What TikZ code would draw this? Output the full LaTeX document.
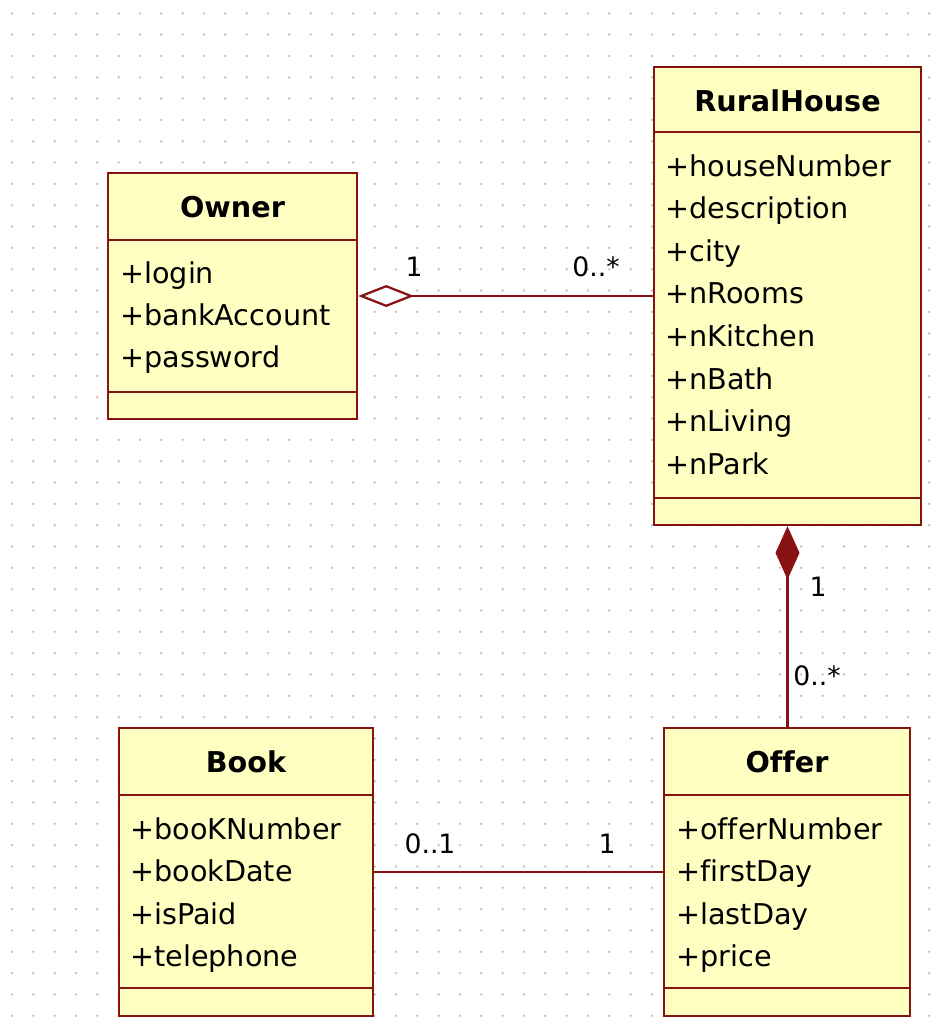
\documentclass[tikz,border=0pt]{standalone}
\usepackage{fontspec}
\setmainfont[Ligatures=NoCommon]{DejaVu Sans}
\usepackage{tikz}
\usetikzlibrary{arrows.meta,fit}

\definecolor{umlred}{RGB}{135,18,18}
\definecolor{umlfill}{RGB}{255,255,194}

\tikzset{
    classbox/.style={draw=umlred, fill=umlfill, line width=1.8pt, inner sep=0pt},
    compline/.style={draw=umlred, line width=1.8pt},
    assoc/.style={draw=umlred, line width=1.7pt},
    cname/.style={inner sep=0pt, anchor=base, font=\bfseries\fontsize{21.5}{26}\selectfont},
    attr/.style={inner sep=0pt, anchor=base west, font=\fontsize{21.5}{26}\selectfont},
    mult/.style={inner sep=0pt, anchor=base, font=\fontsize{20}{24}\selectfont}
}

\begin{document}
\begin{tikzpicture}[x=0.75pt, y=-0.75pt]
        \fill[white] (0,0) rectangle (944,1035);
        \useasboundingbox (0,0) rectangle (944,1035);
        \foreach \i in {0,...,43} \foreach \j in {0,...,47}
            \fill[gray!55] ({12+21.33*\i},{13.3+21.33*\j}) circle (0.9pt);

        \coordinate (A) at (108,173); \coordinate (B) at (357,419);
        \coordinate (C) at (654,67);  \coordinate (D) at (921,525);
        \coordinate (E) at (119,728); \coordinate (F) at (373,1016);
        \coordinate (G) at (664,728); \coordinate (H) at (910,1016);
        \node[classbox, fit=(A) (B)] (owner) {};
        \node[classbox, fit=(C) (D)] (rural) {};
        \node[classbox, fit=(E) (F)] (book) {};
        \node[classbox, fit=(G) (H)] (offer) {};

        \draw[compline] (108,240) -- (357,240); \draw[compline] (108,392) -- (357,392);
        \draw[compline] (654,132) -- (921,132); \draw[compline] (654,498) -- (921,498);
        \draw[compline] (119,795) -- (373,795); \draw[compline] (119,988) -- (373,988);
        \draw[compline] (664,795) -- (910,795); \draw[compline] (664,988) -- (910,988);

        \node[cname] (ownerT) at (232.5,217) {Owner};
        \node[cname] (ruralT) at (787.5,111) {RuralHouse};
        \node[cname] (bookT) at (246,772) {Book};
        \node[cname] (offerT) at (787,772) {Offer};

        \foreach \a [count=\k] in {login,bankAccount,password}
            \node[attr] (ow\k) at (120,{283+42*(\k-1)}) {+\a};
        \foreach \a [count=\k] in {houseNumber,description,city,nRooms,nKitchen,nBath,nLiving,nPark}
            \node[attr] (rh\k) at (665,{176+42.6*(\k-1)}) {+\a};
        \foreach \a [count=\k] in {booKNumber,bookDate,isPaid,telephone}
            \node[attr] (bk\k) at (130,{839+42.6*(\k-1)}) {+\a};
        \foreach \a [count=\k] in {offerNumber,firstDay,lastDay,price}
            \node[attr] (of\k) at (676,{839+42.6*(\k-1)}) {+\a};

        \draw[assoc, {Diamond[fill=white, length=42pt, width=16.5pt]}-] (owner.east) -- (rural.west);
        \draw[assoc, {Diamond[length=40pt, width=18pt]}-] (rural.south) -- (rural.south |- offer.north);
        \draw[assoc] (book.east) -- (offer.west);

        \node[mult] (m1) at (414,276) {1};
        \node[mult] (m2) at (596,276) {0..*};
        \node[mult] (m3) at (818,596) {1};
        \node[mult] (m4) at (817,685) {0..*};
        \node[mult] (m5) at (430,853) {0..1};
        \node[mult] (m6) at (607,853) {1};
    \end{tikzpicture}
\end{document}
